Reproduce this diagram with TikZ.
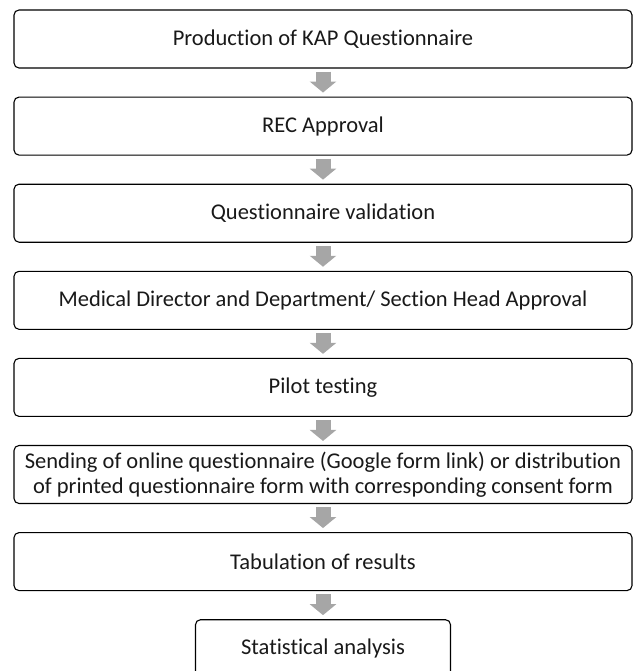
\documentclass[tikz,border=0pt]{standalone}
\usepackage{fontspec}
\setmainfont[RawFeature=-liga]{Carlito}
\usepackage {tikz}
\usetikzlibrary {positioning}
\usetikzlibrary{arrows.meta}
\tikzset{
    stepbox/.style = {rectangle,draw,rounded corners=5pt,line width=1.1pt,fill=white,
        text=black!90,align=center,inner sep=2pt,
        minimum width=618pt,minimum height=58pt,
        font=\fontsize{22.5}{24.5}\selectfont},
    endbox/.style = {stepbox,minimum width=255pt},
    flowarrow/.style = {draw=black!35,line width=15pt,
        -{Triangle[width=26pt,length=11pt]},
        shorten <=3pt,shorten >=4pt}}
\begin{document}
\begin{tikzpicture}
    \useasboundingbox (0,0) rectangle (634pt,-671pt);
    \node[stepbox] (prod) at (323pt,-39pt) {Production of KAP Questionnaire};
    \node[stepbox,below=28pt of prod] (rec) {REC Approval};
    \node[stepbox,below=28pt of rec] (valid) {Questionnaire validation};
    \node[stepbox,below=28pt of valid] (head) {Medical Director and Department/ Section Head Approval};
    \node[stepbox,below=28pt of head] (pilot) {Pilot testing};
    \node[stepbox,below=28pt of pilot] (send) {Sending of online questionnaire (Google form link) or distribution\\of printed questionnaire form with corresponding consent form};
    \node[stepbox,below=28pt of send] (tab) {Tabulation of results};
    \node[endbox,below=28pt of tab] (stat) {Statistical analysis};
    \foreach \a/\b in {prod/rec,rec/valid,valid/head,head/pilot,pilot/send,send/tab,tab/stat}
        \draw[flowarrow] (\a.south) -- (\b.north);
\end{tikzpicture}
\end{document}
